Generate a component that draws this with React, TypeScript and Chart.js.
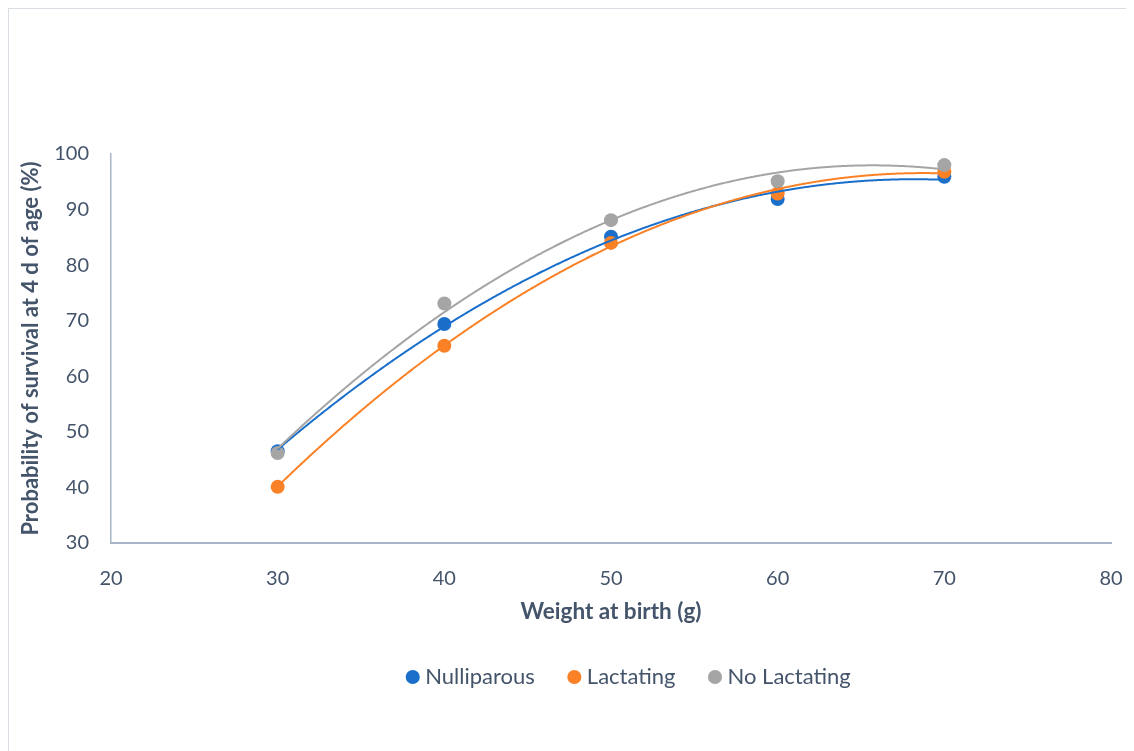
import React, { useEffect, useRef } from "react";
import { Chart, registerables } from "chart.js";

Chart.register(...registerables);

const weights = [30, 40, 50, 60, 70];
const nulliparous = [46.5, 69.4, 85.1, 91.9, 95.9];
const lactating = [40.1, 65.5, 84.0, 92.9, 96.8];
const noLactating = [46.2, 73.1, 88.1, 95.1, 98.0];

const seriesNames = ["Nulliparous", "Lactating", "No Lactating"];
const seriesColors = ["#1A6FCB", "#FA8126", "#A5A5A5"];
const xTicks = [20, 30, 40, 50, 60, 70, 80];
const yTicks = [30, 40, 50, 60, 70, 80, 90, 100];

const TEXT = "#44546A";
const AXIS = "#A7B5C8";
const FONT = "Lato, 'Open Sans', sans-serif";

// least-squares quadratic fit (Excel polynomial order 2 trendline)
function quadFit(xs: number[], ys: number[]) {
  const n = xs.length;
  let s0 = n, s1 = 0, s2 = 0, s3 = 0, s4 = 0, t0 = 0, t1 = 0, t2 = 0;
  for (let i = 0; i < n; i++) {
    const x = xs[i], y = ys[i];
    s1 += x; s2 += x * x; s3 += x * x * x; s4 += x * x * x * x;
    t0 += y; t1 += x * y; t2 += x * x * y;
  }
  const M = [
    [s4, s3, s2, t2],
    [s3, s2, s1, t1],
    [s2, s1, s0, t0],
  ];
  for (let i = 0; i < 3; i++) {
    let p = i;
    for (let r = i + 1; r < 3; r++) if (Math.abs(M[r][i]) > Math.abs(M[p][i])) p = r;
    [M[i], M[p]] = [M[p], M[i]];
    for (let r = 0; r < 3; r++) {
      if (r === i) continue;
      const f = M[r][i] / M[i][i];
      for (let c = i; c < 4; c++) M[r][c] -= f * M[i][c];
    }
  }
  return [M[0][3] / M[0][0], M[1][3] / M[1][1], M[2][3] / M[2][2]];
}

const trendlinePlugin = {
  id: "trendlines",
  afterDatasetsDraw(chart: any) {
    const { ctx, scales } = chart;
    const xs = scales.x;
    const ys = scales.y;
    ctx.save();
    chart.data.datasets.forEach((ds: any) => {
      const px = ds.data.map((d: any) => d.x);
      const py = ds.data.map((d: any) => d.y);
      const [a, b, c] = quadFit(px, py);
      const x0 = Math.min(...px);
      const x1 = Math.max(...px);
      const p0 = xs.getPixelForValue(x0);
      const p1 = xs.getPixelForValue(x1);
      ctx.beginPath();
      for (let p = p0; p <= p1 + 0.01; p += 1) {
        const x = xs.getValueForPixel(p);
        const y = a * x * x + b * x + c;
        const yp = ys.getPixelForValue(y);
        if (p === p0) ctx.moveTo(p, yp);
        else ctx.lineTo(p, yp);
      }
      ctx.strokeStyle = ds.backgroundColor;
      ctx.lineWidth = 2;
      ctx.stroke();
    });
    ctx.restore();
  },
};

export default function App() {
  const ref = useRef<HTMLCanvasElement | null>(null);

  useEffect(() => {
    document.documentElement.style.overflow = "hidden";
    document.body.style.overflow = "hidden";
    const seriesData = [nulliparous, lactating, noLactating];
    const chart = new Chart(ref.current as HTMLCanvasElement, {
      type: "scatter",
      data: {
        datasets: seriesData.map((vals, i) => ({
          label: seriesNames[i],
          data: weights.map((w, j) => ({ x: w, y: vals[j] })),
          backgroundColor: seriesColors[i],
          borderColor: seriesColors[i],
          borderWidth: 0,
          pointRadius: 7,
          pointHoverRadius: 7,
          order: 3 - i,
        })),
      },
      options: {
        responsive: false,
        animation: false,
        events: [],
        layout: { padding: { top: 145, bottom: 71, left: 0, right: 0 } },
        plugins: {
          tooltip: { enabled: false },
          legend: {
            position: "bottom",
            labels: {
              usePointStyle: true,
              pointStyle: "circle",
              boxWidth: 3,
              boxHeight: 10,
              padding: 38,
              color: TEXT,
              font: { family: FONT, size: 22 },
              sort: (a: any, b: any) => a.datasetIndex - b.datasetIndex,
            },
          },
        },
        scales: {
          x: {
            type: "linear",
            min: 20,
            max: 80,
            afterBuildTicks: (s: any) => {
              s.ticks = xTicks.map((v) => ({ value: v }));
            },
            afterFit: (s: any) => {
              s.height = 85;
            },
            grid: { display: false, drawTicks: false },
            border: { display: true, color: AXIS, width: 2 },
            ticks: {
              color: TEXT,
              padding: 24,
              font: { family: FONT, size: 20 },
              maxRotation: 0,
            },
            title: {
              display: true,
              text: "Weight at birth (g)",
              color: TEXT,
              font: { family: FONT, size: 22.5, weight: "bold" },
              padding: { top: 6, bottom: 3 },
            },
          },
          y: {
            type: "linear",
            min: 30,
            max: 100,
            afterBuildTicks: (s: any) => {
              s.ticks = yTicks.map((v) => ({ value: v }));
            },
            afterFit: (s: any) => {
              s.width = 102;
            },
            grid: { display: false, drawTicks: false },
            border: { display: true, color: AXIS, width: 1.5 },
            ticks: {
              color: TEXT,
              padding: 22,
              font: { family: FONT, size: 20 },
            },
            title: {
              display: true,
              text: "Probability of survival at 4 d of age (%)",
              color: TEXT,
              font: { family: FONT, size: 22, weight: "bold" },
              padding: { top: 9, bottom: 10 },
            },
          },
          y2: {
            type: "linear",
            position: "right",
            min: 30,
            max: 100,
            display: true,
            afterFit: (s: any) => {
              s.width = 142;
            },
            grid: { display: false, drawTicks: false },
            border: { display: false },
            ticks: { display: false },
          },
        },
      },
      plugins: [trendlinePlugin],
    });
    return () => chart.destroy();
  }, []);

  return (
    <div
      style={{
        width: 1244,
        height: 760,
        border: "1px solid #D9DEE5",
        background: "#FFFFFF",
        boxSizing: "content-box",
      }}
    >
      <canvas ref={ref} width={1244} height={760} style={{ display: "block", width: 1244, height: 760 }} />
    </div>
  );
}
